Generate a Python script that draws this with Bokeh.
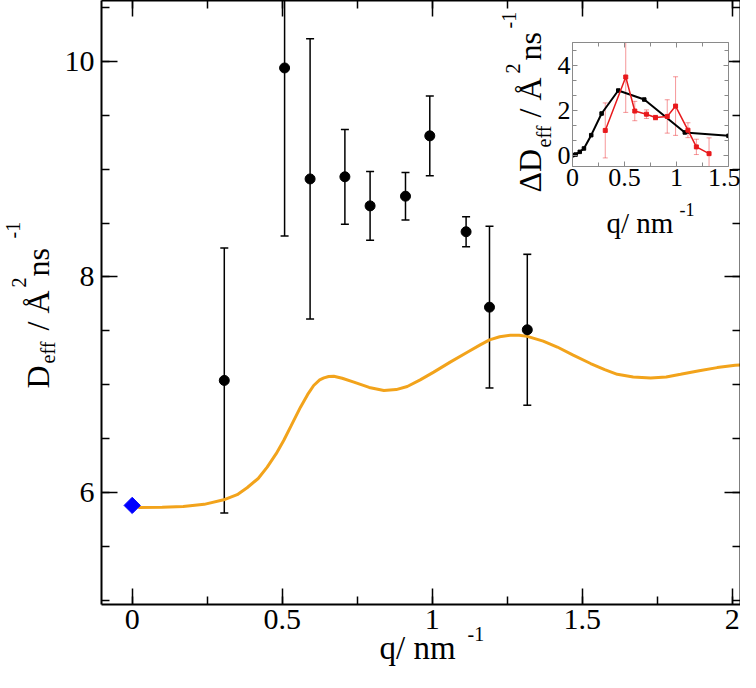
import numpy as np
from bokeh.plotting import figure
from bokeh.models import (Range1d, LinearAxis, SingleIntervalTicker, Whisker, TeeHead,
                          ColumnDataSource, Label, NumeralTickFormatter, CustomJSTickFormatter)
from bokeh.layouts import column, row
from bokeh.embed import file_html
from bokeh.resources import INLINE

# ---------------- data (main panel) ----------------
q_sim = [0.307, 0.508, 0.593, 0.709, 0.793, 0.911, 0.992, 1.113, 1.191, 1.317]
D_sim = [7.04, 9.94, 8.91, 8.93, 8.66, 8.75, 9.31, 8.42, 7.72, 7.51]
D_sim_err = [1.23, 1.56, 1.30, 0.44, 0.32, 0.22, 0.37, 0.14, 0.75, 0.70]

q_curve = [0.02, 0.10, 0.17, 0.24, 0.305, 0.35, 0.383, 0.42, 0.45, 0.48, 0.505, 0.53,
           0.561, 0.585, 0.605, 0.625, 0.639, 0.655, 0.672, 0.70, 0.739, 0.79, 0.839,
           0.88, 0.917, 0.96, 1.005, 1.06, 1.117, 1.16, 1.191, 1.225, 1.261, 1.29,
           1.317, 1.37, 1.417, 1.47, 1.528, 1.575, 1.617, 1.67, 1.728, 1.78, 1.828,
           1.89, 1.95, 2.01, 2.078]
D_curve = [5.86, 5.863, 5.87, 5.89, 5.932, 5.98, 6.044, 6.13, 6.235, 6.36, 6.483, 6.62,
           6.792, 6.91, 6.993, 7.045, 7.064, 7.076, 7.079, 7.06, 7.024, 6.975, 6.947,
           6.955, 6.984, 7.045, 7.117, 7.21, 7.302, 7.37, 7.417, 7.445, 7.460, 7.46,
           7.449, 7.405, 7.35, 7.275, 7.197, 7.14, 7.097, 7.072, 7.063, 7.072, 7.097,
           7.13, 7.159, 7.18, 7.197]

q_zero = [0.0]
D_zero = [5.88]

# ---------------- data (inset) ----------------
dq_black = [0.0, 0.03, 0.07, 0.11, 0.18, 0.28, 0.44, 0.69, 1.08, 1.5]
dD_black = [0.0, 0.03, 0.15, 0.30, 0.89, 1.85, 2.87, 2.47, 1.01, 0.86]

dq_red = [0.315, 0.512, 0.599, 0.711, 0.798, 0.911, 0.991, 1.110, 1.191, 1.313]
dD_red = [1.10, 3.47, 1.96, 1.82, 1.67, 1.72, 2.18, 1.11, 0.37, 0.07]
dD_red_err = [1.22, 1.57, 0.43, 0.19, 0.10, 0.74, 1.30, 0.33, 0.34, 0.70]

FONT = "Liberation Serif"
ORANGE = "#F2A31B"
RED = "#E8191C"
GRAY = "#8a8a8a"

W, H = 740, 672
XMIN, XMAX = -0.1023, 2.0277
YMIN, YMAX = 4.9605, 10.5661

EMPTY = CustomJSTickFormatter(code="return ''")


def cfg(ax, ticker, labels, size="30px", color="black", lw=2, tlw=1.5,
        major_in=16, minor_in=8, standoff=6, fmt=None):
    ax.ticker = ticker
    ax.axis_line_color = color
    ax.axis_line_width = lw
    ax.major_tick_line_color = color
    ax.major_tick_line_width = tlw
    ax.minor_tick_line_color = color
    ax.minor_tick_line_width = tlw
    ax.major_tick_in = major_in
    ax.major_tick_out = 0
    ax.minor_tick_in = minor_in
    ax.minor_tick_out = 0
    if fmt is not None:
        ax.formatter = fmt
    if labels:
        ax.major_label_text_font = FONT
        ax.major_label_text_font_size = size
        ax.major_label_standoff = standoff
        ax.major_label_text_color = "black"
    else:
        ax.formatter = EMPTY
        ax.major_label_text_font_size = "0px"
        ax.major_label_standoff = 0


# ---------------- main figure ----------------
p = figure(width=W, height=H, x_range=Range1d(XMIN, XMAX), y_range=Range1d(YMIN, YMAX),
           output_backend="svg", toolbar_location=None,
           min_border_left=101, min_border_right=0, min_border_top=0, min_border_bottom=68)
p.grid.visible = False
p.outline_line_color = None

xt = SingleIntervalTicker(interval=0.5, num_minor_ticks=2)
yt = SingleIntervalTicker(interval=2, num_minor_ticks=4)
cfg(p.xaxis[0], xt, True, standoff=5, fmt=NumeralTickFormatter(format="0.[0]"))
cfg(p.yaxis[0], yt, True, standoff=7)
top_ax = LinearAxis()
right_ax = LinearAxis()
cfg(top_ax, xt, False)
cfg(right_ax, yt, False)
p.add_layout(top_ax, "above")
p.add_layout(right_ax, "right")

p.line(q_curve, D_curve, line_width=3, line_color=ORANGE)
p.scatter(q_zero, D_zero, marker="square", angle=np.pi / 4, size=11.5,
          fill_color="#0000FF", line_color="#0000FF")

qs = np.array(q_sim)
ds = np.array(D_sim)
es = np.array(D_sim_err)
src = ColumnDataSource(dict(q=qs, D=ds, up=ds + es, lo=ds - es))
p.add_layout(Whisker(base="q", upper="up", lower="lo", source=src,
                     line_color="black", line_width=1.5,
                     upper_head=TeeHead(size=8, line_width=1.5, line_color="black"),
                     lower_head=TeeHead(size=8, line_width=1.5, line_color="black")))
p.scatter("q", "D", source=src, size=10, fill_color="black", line_color="black")

# ---------------- inset ----------------
IW, IH = 242, 240
ins = figure(width=IW, height=IH, x_range=Range1d(0, 1.5), y_range=Range1d(-0.5, 5),
             output_backend="svg", toolbar_location=None,
             min_border_left=74, min_border_right=12, min_border_top=42, min_border_bottom=74)
ins.grid.visible = False
ins.outline_line_color = None
ins.background_fill_color = "white"
ins.border_fill_alpha = 0

ixt = SingleIntervalTicker(interval=0.5, num_minor_ticks=2)
iyt = SingleIntervalTicker(interval=2, num_minor_ticks=3)
cfg(ins.xaxis[0], ixt, True, size="26px", color=GRAY, lw=1, tlw=1, major_in=5, minor_in=4,
    standoff=2, fmt=NumeralTickFormatter(format="0.[0]"))
cfg(ins.yaxis[0], iyt, True, size="26px", color=GRAY, lw=1, tlw=1, major_in=5, minor_in=4,
    standoff=2)
itop = LinearAxis()
iright = LinearAxis()
cfg(itop, ixt, False, color=GRAY, lw=1, tlw=1, major_in=5, minor_in=4)
cfg(iright, iyt, False, color=GRAY, lw=1, tlw=1, major_in=5, minor_in=4)
ins.add_layout(itop, "above")
ins.add_layout(iright, "right")

ins.line(dq_black, dD_black, line_width=2, line_color="black")
ins.scatter(dq_black, dD_black, marker="square", size=3.5, fill_color="black", line_color="black")

rq = np.array(dq_red)
rd = np.array(dD_red)
re = np.array(dD_red_err)
rsrc = ColumnDataSource(dict(q=rq, D=rd, up=rd + re, lo=rd - re))
ins.add_layout(Whisker(base="q", upper="up", lower="lo", source=rsrc,
                       line_color=RED, line_alpha=0.45, line_width=1,
                       upper_head=TeeHead(size=5, line_width=1, line_color=RED, line_alpha=0.45),
                       lower_head=TeeHead(size=5, line_width=1, line_color=RED, line_alpha=0.45)))
ins.line("q", "D", source=rsrc, line_width=1.5, line_color=RED)
ins.scatter("q", "D", source=rsrc, marker="square", size=4, fill_color=RED, line_color=RED)

# ---------------- text layer (axis titles with sub/superscripts) ----------------
lay = figure(width=W, height=H, x_range=Range1d(0, W), y_range=Range1d(0, H),
             output_backend="svg", toolbar_location=None,
             x_axis_location=None, y_axis_location=None, min_border=0)
lay.grid.visible = False
lay.outline_line_color = None
lay.background_fill_alpha = 0
lay.border_fill_alpha = 0


def lab(px, py, text, size_px, angle=0.0):
    # px, py: baseline start in pixels from the figure's top-left corner;
    # shifted by ~a quarter em to compensate the renderer's baseline offset
    shift = 0.25 * size_px
    if angle:
        px -= shift
    else:
        py -= shift
    lay.add_layout(Label(x=px, y=H - py, text=text, text_font=FONT,
                         text_font_size=f"{size_px}px", angle=angle,
                         text_baseline="alphabetic", text_align="left", text_color="black"))


R = np.pi / 2
# main y title
lab(45, 388, "D", 32, R)
lab(52, 363, "eff", 20, R)
lab(45, 330, "/ Å", 32, R)
lab(23, 287, "2", 20, R)
lab(45, 276, "ns", 32, R)
lab(17, 238, "-1", 20, R)
# main x title
lab(379, 656, "q/ nm", 33)
lab(467, 638, "-1", 20)
# inset y title
lab(537, 192, "ΔD", 32, R)
lab(548, 147, "eff", 20, R)
lab(537, 117, "/ Å", 32, R)
lab(517, 73, "2", 20, R)
lab(537, 60, "ns", 32, R)
lab(513, 28, "-1", 20, R)
# inset x title
lab(606, 230, "q/ nm", 29)
lab(679, 213, "-1", 18)

ins_row = row(ins)
ins_row.margin = (-H, 0, H - IH, 498)
lay_row = row(lay)
lay_row.margin = (-H, 0, 0, 0)

layout = column(p, ins_row, lay_row)
open("out.html", "w").write(file_html(layout, INLINE))
